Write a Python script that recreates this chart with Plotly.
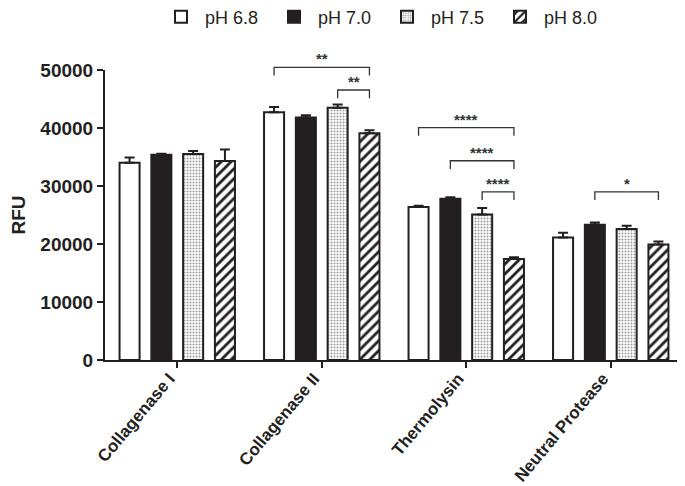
import plotly.graph_objects as go

categories = ["Collagenase I", "Collagenase II", "Thermolysin", "Neutral Protease"]
series_names = ["pH 6.8", "pH 7.0", "pH 7.5", "pH 8.0"]
ph68 = [34000, 42700, 26400, 21100]
ph70 = [35400, 41800, 27800, 23300]
ph75 = [35500, 43500, 25100, 22600]
ph80 = [34300, 39100, 17400, 19900]
err68 = [900, 900, 200, 850]
err70 = [150, 400, 250, 400]
err75 = [550, 550, 1100, 550]
err80 = [2000, 500, 300, 550]
y_ticks = [0, 10000, 20000, 30000, 40000, 50000]

# significance brackets: (group index, from series, to series, height in RFU, label)
brackets = [
    (1, 0, 3, 50450, "**"),
    (1, 2, 3, 46550, "**"),
    (2, 0, 3, 40050, "****"),
    (2, 1, 3, 34350, "****"),
    (2, 2, 3, 29000, "****"),
    (3, 1, 3, 29000, "*"),
]

INK = "#231f20"
values = [ph68, ph70, ph75, ph80]
errors = [err68, err70, err75, err80]
styles = [
    dict(color="white"),
    dict(color=INK),
    dict(color="white", pattern=dict(shape=".", size=3, solidity=0.35, fgcolor="#9a9a9a", bgcolor="white", fillmode="replace")),
    dict(color="white", pattern=dict(shape="/", size=7, solidity=0.4, fgcolor=INK, bgcolor="white", fillmode="replace")),
]

fig = go.Figure()
xs = list(range(len(categories)))
for name, vals, errs, st in zip(series_names, values, errors, styles):
    marker = dict(line=dict(color=INK, width=2), **st)
    fig.add_trace(go.Bar(
        x=xs, y=vals, name=name, marker=marker,
        error_y=dict(type="data", array=errs, arrayminus=[0] * len(errs), symmetric=False,
                     color=INK, thickness=2, width=5),
    ))

BARGAP = 0.12
BARGROUPGAP = 0.37
slot = (1 - BARGAP) / len(series_names)
YMAX = 50000

def bar_center(g, s):
    return g - (1 - BARGAP) / 2 + slot * (s + 0.5)

drop = 1400
for g, s0, s1, h, lab in brackets:
    x0, x1 = bar_center(g, s0), bar_center(g, s1)
    fig.add_shape(type="path", xref="x", yref="paper",
                  path=f"M {x0} {(h - drop) / YMAX} L {x0} {h / YMAX} L {x1} {h / YMAX} L {x1} {(h - drop) / YMAX}",
                  line=dict(color="#333333", width=1.3))
    fig.add_annotation(x=(x0 + x1) / 2, y=h / YMAX, xref="x", yref="paper", text=f"<b>{lab}</b>",
                       showarrow=False, yanchor="bottom", yshift=-2,
                       font=dict(family="Liberation Sans, Arial", size=15, color="#333333"))

fig.update_layout(
    width=677, height=478,
    margin=dict(l=97, r=2, t=62, b=126, autoexpand=False),
    paper_bgcolor="white", plot_bgcolor="white",
    barmode="group", bargap=BARGAP, bargroupgap=BARGROUPGAP,
    font=dict(family="Liberation Sans, Arial", color=INK),
    showlegend=True,
    legend=dict(orientation="h", x=0.090, xanchor="left", y=1.183, yanchor="middle",
                font=dict(size=18, color=INK), entrywidth=60, entrywidthmode="pixels",
                itemwidth=38, bgcolor="rgba(0,0,0,0)", traceorder="normal"),
    xaxis=dict(range=[-0.5, 3.5], tickvals=xs, ticktext=[f"<b>{c}</b>" for c in categories],
               tickangle=-50, ticks="outside", ticklen=6, tickwidth=2, tickcolor=INK,
               showline=True, linecolor=INK, linewidth=2, showgrid=False, zeroline=False,
               ticklabelshift=-8, ticklabelstandoff=-6,
               automargin=False, tickfont=dict(size=17, color=INK)),
    yaxis=dict(range=[0, YMAX], tickvals=y_ticks, ticktext=[f"<b>{t}</b>" for t in y_ticks],
               ticks="outside", ticklen=6, tickwidth=2, tickcolor=INK,
               showline=True, linecolor=INK, linewidth=2, showgrid=False, zeroline=False,
               automargin=False, tickfont=dict(size=19, color=INK),
               title=dict(text="<b>RFU</b>", font=dict(size=19, color=INK), standoff=32)),
)

fig.write_html("out.html")
